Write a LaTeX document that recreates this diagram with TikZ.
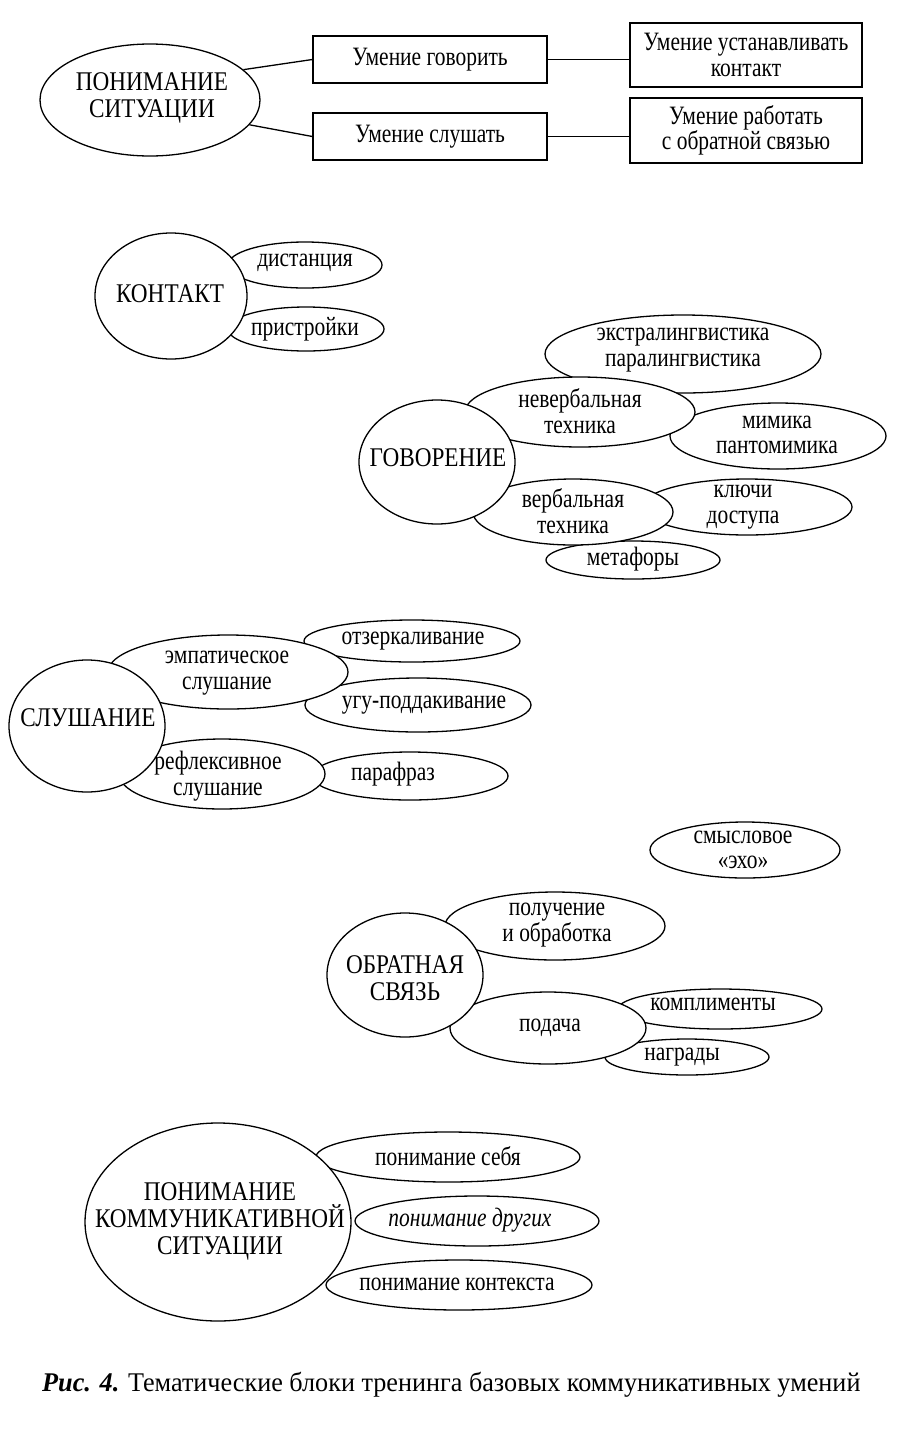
\documentclass[tikz,border=0pt]{standalone}
\usepackage{fontspec}
\setmainfont{Liberation Serif}[FakeStretch=0.81]
\newfontfamily\capsfont{Liberation Serif}[FakeStretch=0.86]
\newfontfamily\capfont{Liberation Serif}[FakeStretch=0.97]
\usetikzlibrary{shapes.geometric}
\newcommand\leafsz{\fontsize{26.5}{25.5}\selectfont}
\newcommand\mainsz{\capsfont\fontsize{27}{27}\selectfont}
\tikzset{
  shp/.style={draw, fill=white, ellipse, inner sep=0pt, line width=1.3pt},
  boxnode/.style={draw, fill=white, rectangle, inner sep=0pt, line width=1.3pt, align=center, font=\leafsz},
  conn/.style={line width=1.3pt},
  tx/.style={align=center, inner sep=0pt, font=\leafsz},
  mtx/.style={align=center, inner sep=0pt, font=\mainsz},
}
\newcommand\elli[5]{\node[shp, minimum width={2*#4}, minimum height={2*#5}] (#1) at (#2,#3) {};}
\newcommand\tnode[4]{\node[tx] (#1) at (#2,#3) {#4};}
\newcommand\mnode[4]{\node[mtx] (#1) at (#2,#3) {#4};}
\begin{document}
\begin{tikzpicture}[x=1pt,y=-1pt]
\useasboundingbox[fill=white] (0,0) rectangle (912,1441);

% ---------- top section ----------
\elli{top}{150}{100}{110}{56}
\node[boxnode, minimum width=234, minimum height=47] (b1) at (430,59.5) {Умение говорить};
\node[boxnode, minimum width=234, minimum height=47] (b2) at (430,136.5) {Умение слушать};
\node[boxnode, minimum width=232, minimum height=64] (b3) at (746,55) {Умение устанавливать\\контакт};
\node[boxnode, minimum width=232, minimum height=65] (b4) at (746,130.5) {Умение работать\\с обратной связью};
\draw[conn] (top.18) -- (b1.west);
\draw[conn] (top.-14) -- (b2.west);
\draw[conn] (b1.east) -- (b1.east -| b3.west);
\draw[conn] (b2.east) -- (b2.east -| b4.west);
\mnode{ttop}{152}{98}{ПОНИМАНИЕ\\СИТУАЦИИ}

% ---------- КОНТАКТ ----------
\elli{dist}{305}{265}{77}{23}
\elli{prist}{306}{329}{78}{22}
\elli{kont}{171}{296}{76}{63}

% ---------- ГОВОРЕНИЕ ----------
\elli{extra}{683}{354}{138}{39}
\elli{mimika}{778}{436}{108}{33}
\elli{neverb}{580}{412}{115}{35}
\elli{kluchi}{747}{507}{105}{28}
\elli{metaf}{633}{560}{87}{19}
\elli{verb}{573}{512}{100}{33}
\elli{gov}{437}{462}{78}{62}

% ---------- СЛУШАНИЕ ----------
\elli{otzerk}{412}{641}{108}{21}
\elli{ugu}{418}{705}{113}{27}
\elli{empat}{228}{672}{120}{37}
\elli{paraf}{410}{776}{98}{24}
\elli{reflex}{222}{774}{103}{35}
\elli{slush}{87}{726}{78}{66}

% ---------- смысловое эхо ----------
\elli{eho}{745}{850}{95}{28}

% ---------- ОБРАТНАЯ СВЯЗЬ ----------
\elli{poluch}{555}{926}{110}{34}
\elli{kompl}{720}{1009}{102}{20}
\elli{nagr}{687}{1057}{82}{18}
\elli{podacha}{548}{1028}{98}{36}
\elli{obr}{405}{975}{78}{62}

% ---------- ПОНИМАНИЕ КОММУНИКАТИВНОЙ СИТУАЦИИ ----------
\elli{sebya}{448}{1157}{132}{25}
\elli{drug}{477}{1221}{122}{25}
\elli{kontext}{459}{1285}{133}{25}
\elli{big}{218}{1222}{133}{99}

% ---------- texts ----------
\mnode{tkont}{170}{294}{КОНТАКТ}
\tnode{tdist}{305}{263}{дистанция}
\tnode{tprist}{305}{329}{пристройки}

\mnode{tgov}{438}{458}{ГОВОРЕНИЕ}
\tnode{textra}{683}{350}{экстралингвистика\\паралингвистика}
\tnode{tneverb}{580}{411}{невербальная\\техника}
\tnode{tmimika}{777}{435}{мимика\\пантомимика}
\tnode{tverb}{573}{511}{вербальная\\техника}
\tnode{tkluchi}{743}{507}{ключи\\доступа}
\tnode{tmetaf}{633}{559}{метафоры}

\mnode{tslush}{88}{718}{СЛУШАНИЕ}
\tnode{tempat}{227}{673}{эмпатическое\\слушание}
\tnode{totzerk}{413}{641}{отзеркаливание}
\tnode{tugu}{424}{705}{угу-поддакивание}
\tnode{treflex}{218}{776}{рефлексивное\\слушание}
\tnode{tparaf}{393}{774}{парафраз}

\tnode{teho}{743}{850}{смысловое\\«эхо»}

\mnode{tobr}{405}{978}{ОБРАТНАЯ\\СВЯЗЬ}
\tnode{tpoluch}{557}{925}{получение\\и обработка}
\tnode{tpodacha}{550}{1028}{подача}
\tnode{tkompl}{713}{1004}{комплименты}
\tnode{tnagr}{682}{1057}{награды}

\mnode{tbig}{220}{1221}{ПОНИМАНИЕ\\КОММУНИКАТИВНОЙ\\СИТУАЦИИ}
\tnode{tsebya}{448}{1156}{понимание себя}
\tnode{tdrug}{470}{1220}{\itshape понимание других}
\tnode{tkontext}{457}{1284}{понимание контекста}

% ---------- caption ----------
\node[anchor=west, inner sep=0pt, font=\capfont\fontsize{27}{27}\selectfont] (cap) at (42,1385)
  {{\bfseries\itshape Рис. 4.} Тематические блоки тренинга базовых коммуникативных умений};
\end{tikzpicture}
\end{document}
